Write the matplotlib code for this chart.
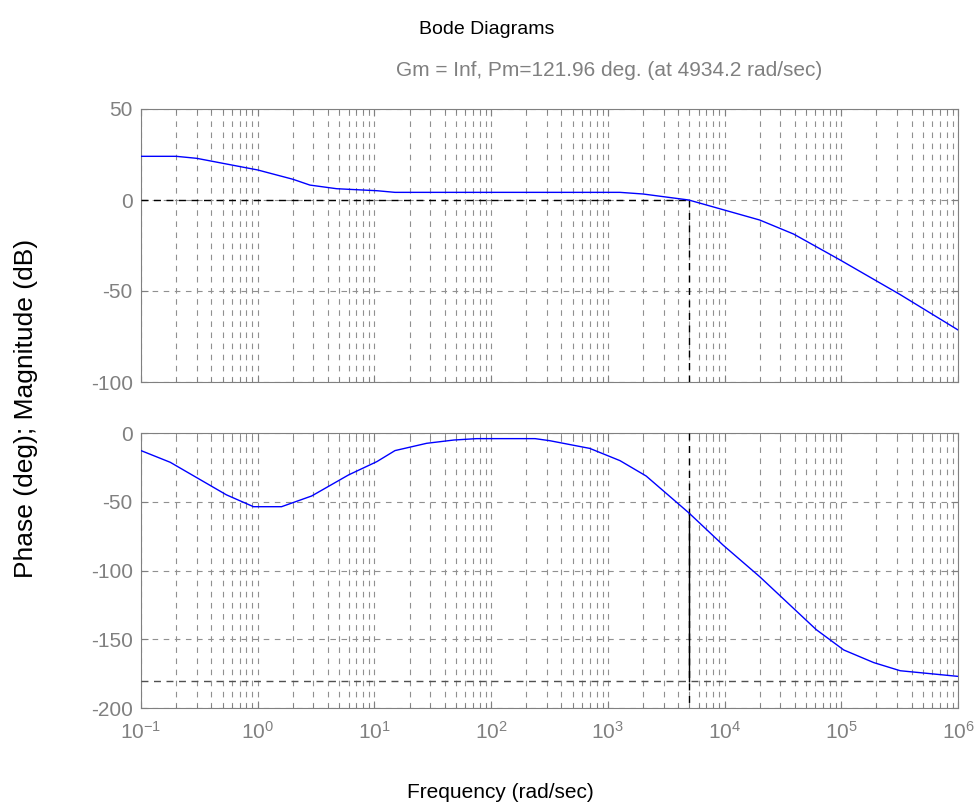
import numpy as np
import matplotlib
matplotlib.use("Agg")
import matplotlib.pyplot as plt
from matplotlib.ticker import LogLocator, NullFormatter

plt.rcParams["font.family"] = ["Liberation Sans", "DejaVu Sans"]
plt.rcParams["mathtext.fontset"] = "custom"
plt.rcParams["mathtext.rm"] = "Liberation Sans"
plt.rcParams["mathtext.it"] = "Liberation Sans"
plt.rcParams["axes.unicode_minus"] = False

# ---- data ----
mag_freq = [0.1, 0.2, 0.3, 1, 2, 2.8, 4.75, 10.5, 15, 1270, 2000, 4934.2, 2e4, 3.9e4, 9.8e4, 3.2e5, 1e6]
mag_db = [24, 24, 22.9, 16.5, 11.4, 8.2, 6.2, 5.1, 4.2, 4.2, 3.3, 0, -11, -18.7, -33, -52, -71.4]
ph_freq = [0.1, 0.178, 0.54, 0.92, 1.6, 2.9, 6, 10.5, 15, 28, 48, 75, 238, 318, 700, 1270, 2130,
           4934.2, 9700, 2e4, 6.1e4, 1.05e5, 1.9e5, 3.2e5, 1e6]
ph_deg = [-12.8, -21.3, -45, -53.6, -53.6, -45.8, -30.5, -20.8, -12.8, -7.5, -5.1, -4.1, -4.1, -5.6,
          -11.2, -20.1, -31.3, -58.04, -81.5, -104.5, -143, -157.8, -167, -172.9, -177]
wc, pm = 4934.2, 121.96
mag_ticks = [-100, -50, 0, 50]
ph_ticks = [-200, -150, -100, -50, 0]

W, H = 975, 805
fig = plt.figure(figsize=(W / 100, H / 100), dpi=100)
axM = fig.add_axes([141 / W, 1 - 382 / H, 817 / W, 273 / H])
axP = fig.add_axes([141 / W, 1 - 708 / H, 817 / W, 275 / H])

GRAY = "#808080"
for ax, ylim, ticks in [(axM, (-100, 50), mag_ticks), (axP, (-200, 0), ph_ticks)]:
    ax.set_xscale("log")
    ax.set_xlim(0.1, 1e6)
    ax.set_ylim(*ylim)
    ax.set_yticks(ticks)
    ax.xaxis.set_major_locator(LogLocator(base=10, numticks=20))
    ax.xaxis.set_minor_locator(LogLocator(base=10, subs=np.arange(2, 10), numticks=20))
    ax.xaxis.set_minor_formatter(NullFormatter())
    ax.grid(True, which="major", axis="both", ls=(0, (5, 5)), lw=0.8, color="#909090")
    ax.grid(True, which="minor", axis="x", ls=(0, (5, 5)), lw=0.8, color="#909090")
    ax.tick_params(which="both", direction="in", colors=GRAY, labelsize=15, top=True, right=True)
    ax.tick_params(which="major", length=5)
    ax.tick_params(which="minor", length=3)
    ax.tick_params(axis="y", pad=6)
    ax.tick_params(axis="x", pad=9)
    for s in ax.spines.values():
        s.set_color(GRAY)
    ax.set_axisbelow(True)

axM.tick_params(labelbottom=False)

# magnitude
axM.plot(mag_freq, mag_db, color="#0000ff", lw=1, zorder=4)
axM.plot([0.1, wc], [0, 0], color="black", ls=(0, (5, 4)), lw=1, zorder=3)
axM.plot([wc, wc], [0, -100], color="black", ls=(0, (5, 4)), lw=1, zorder=3)

# phase
axP.plot(ph_freq, ph_deg, color="#0000ff", lw=1, zorder=4)
axP.axhline(-180, color="#505050", ls=(0, (5, 4)), lw=1, zorder=3)
axP.plot([wc, wc], [0, -200], color="black", ls=(0, (5, 4)), lw=1, zorder=3)
axP.plot([wc, wc], [-180, pm - 180], color="black", lw=1, zorder=3)

fig.text(487 / W, 1 - 30 / H, "Bode Diagrams", ha="center", va="center", fontsize=14, color="black")
fig.text(609 / W, 1 - 70 / H, "Gm = Inf, Pm=121.96 deg. (at 4934.2 rad/sec)",
         ha="center", va="center", fontsize=15, color=GRAY)
fig.text(26 / W, 1 - 408 / H, "Phase (deg); Magnitude (dB)", rotation=90,
         ha="center", va="center", fontsize=19, color="black")
fig.text(500 / W, 1 - 792 / H, "Frequency (rad/sec)", ha="center", va="center", fontsize=15, color="black")

fig.savefig("out.png", dpi=100)
